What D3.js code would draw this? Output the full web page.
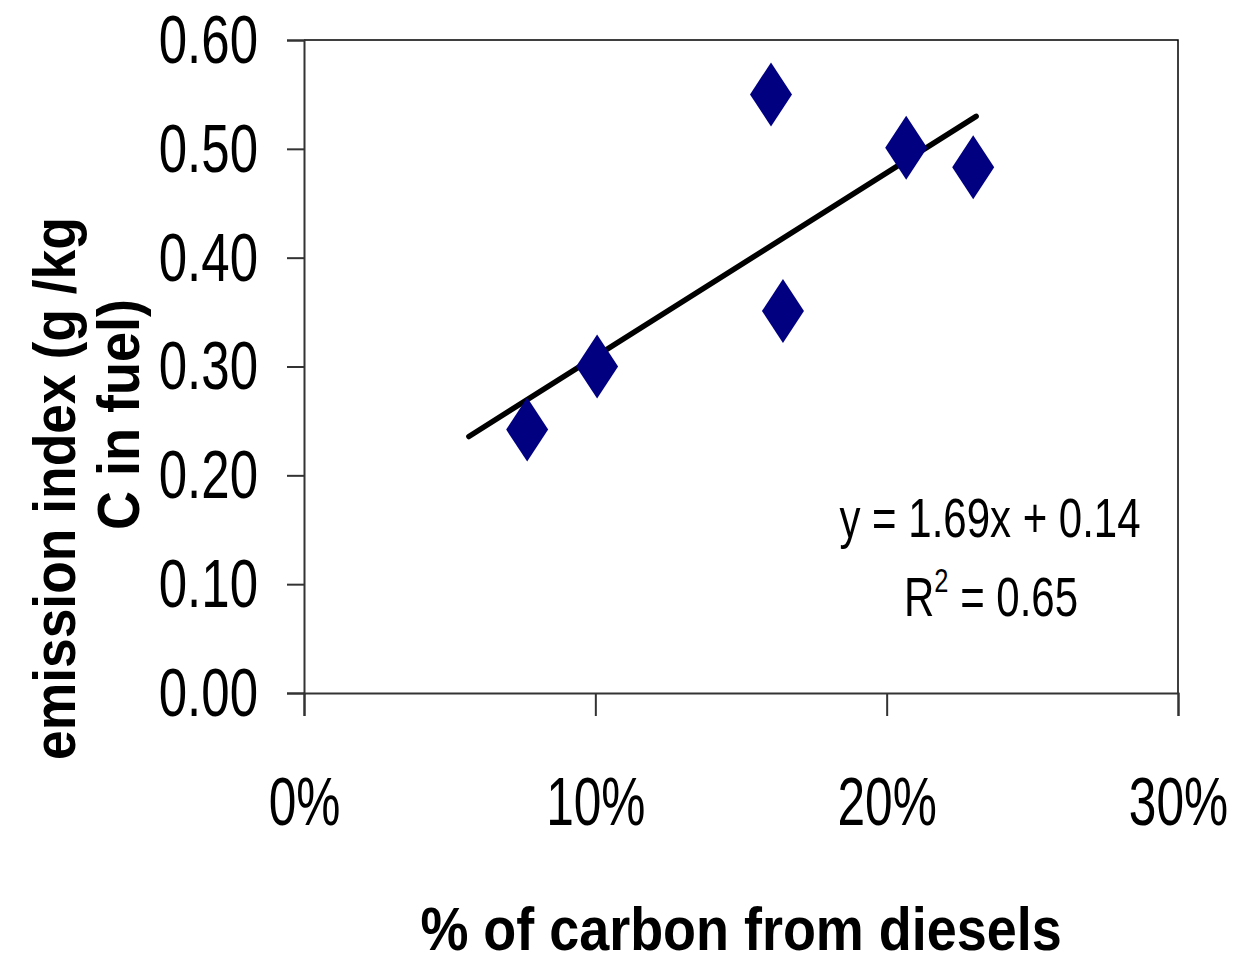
<!DOCTYPE html>
<html>
<head>
  <meta charset="UTF-8" />
  <title>Emission index vs diesel carbon</title>
  <script src="https://d3js.org/d3.v7.min.js"></script>
  <style>
    body { margin: 0; background: #fff; }
    text { font-family: "Liberation Sans", Arial, sans-serif; fill: #000; }
  </style>
</head>
<body>
  <div id="chart"></div>

  <script>
    // data
    const dieselShare = [0.0766, 0.1006, 0.1603, 0.1644, 0.2067, 0.2297];
    const emissionIndex = [0.242, 0.300, 0.550, 0.351, 0.501, 0.483];
    const yTicks = [0, 0.1, 0.2, 0.3, 0.4, 0.5, 0.6];
    const xTicks = [0, 0.1, 0.2, 0.3];
    const trendRange = [0.0566, 0.2307];
    const slope = 1.69, intercept = 0.14;

    const width = 1237, height = 966;
    const plotL = 304, plotR = 1178, plotT = 40, plotB = 693;
    const narrow = 0.75; // no narrow font installed, squeeze horizontally

    const svg = d3.select("#chart")
      .append("svg")
      .attr("width", width)
      .attr("height", height);

    const x = d3.scaleLinear().domain([0, 0.3]).range([plotL, plotR]);
    const y = d3.scaleLinear().domain([0, 0.6]).range([plotB, plotT]);

    // plot frame (top + right)
    svg.append("path")
      .attr("d", `M${plotL},${plotT}H${plotR}V${plotB}`)
      .attr("fill", "none")
      .attr("stroke", "#000")
      .attr("stroke-width", 1.5);

    // y axis
    const yAxis = svg.append("g")
      .attr("transform", `translate(${plotL},0)`)
      .call(d3.axisLeft(y).tickValues(yTicks).tickFormat(d3.format(".2f")).tickSize(17));
    yAxis.select(".domain").attr("stroke", "#333").attr("stroke-width", 2);
    yAxis.selectAll(".tick line").attr("stroke", "#333").attr("stroke-width", 2);
    yAxis.selectAll("text")
      .attr("x", 0)
      .attr("dy", "0.33em")
      .attr("font-size", 68)
      .attr("transform", `translate(-46,0) scale(${narrow},1)`);

    // x axis
    const xAxis = svg.append("g")
      .attr("transform", `translate(0,${plotB})`)
      .call(d3.axisBottom(x).tickValues(xTicks).tickFormat(d3.format(".0%")).tickSize(23));
    xAxis.select(".domain").attr("stroke", "#333").attr("stroke-width", 2);
    xAxis.selectAll(".tick line").attr("stroke", "#333").attr("stroke-width", 2);
    xAxis.selectAll("text")
      .attr("y", 0)
      .attr("dy", 0)
      .attr("font-size", 68)
      .attr("transform", `translate(0,132) scale(0.73,1)`);

    // trend line
    const trend = trendRange.map(v => [x(v), y(slope * v + intercept)]);
    svg.append("path")
      .attr("d", d3.line()(trend))
      .attr("fill", "none")
      .attr("stroke", "#000")
      .attr("stroke-width", 5.5)
      .attr("stroke-linecap", "round");

    // diamonds
    svg.selectAll(".pt")
      .data(dieselShare.map((d, i) => [d, emissionIndex[i]]))
      .enter()
      .append("path")
      .attr("class", "pt")
      .attr("transform", d => `translate(${x(d[0])},${y(d[1])})`)
      .attr("d", "M0,-32L21,0L0,32L-21,0Z")
      .attr("fill", "#000080");

    // equation
    svg.append("text")
      .attr("transform", `translate(990,537) scale(${narrow},1)`)
      .attr("text-anchor", "middle")
      .attr("font-size", 56)
      .text("y = 1.69x + 0.14");
    const r2 = svg.append("text")
      .attr("transform", `translate(991,616) scale(${narrow},1)`)
      .attr("text-anchor", "middle")
      .attr("font-size", 56);
    r2.append("tspan").text("R");
    r2.append("tspan").attr("font-size", 34).attr("dy", -24).text("2");
    r2.append("tspan").attr("dy", 24).text(" = 0.65");

    // axis titles
    svg.append("text")
      .attr("transform", "translate(741,950) scale(0.87,1)")
      .attr("text-anchor", "middle")
      .attr("font-size", 62)
      .attr("font-weight", "bold")
      .text("% of carbon from diesels");

    svg.append("text")
      .attr("transform", "translate(75,760) rotate(-90) scale(0.89,1)")
      .attr("font-size", 60)
      .attr("font-weight", "bold")
      .text("emission index (g /kg");
    svg.append("text")
      .attr("transform", "translate(139,530) rotate(-90) scale(0.9,1)")
      .attr("font-size", 60)
      .attr("font-weight", "bold")
      .text("C in fuel)");
  </script>
</body>
</html>
